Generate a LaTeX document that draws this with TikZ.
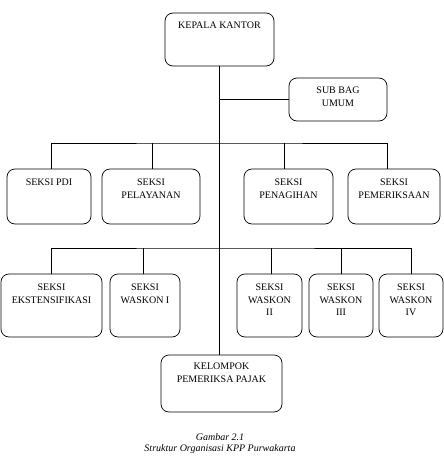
\documentclass[tikz,border=0pt]{standalone}
\usepackage{fontspec}
\setmainfont{Liberation Serif}
\usetikzlibrary{calc,positioning}

\newcommand{\toptext}[4][10pt]{\parbox[c][#3][t]{#2}{\centering\vspace*{#1}#4}}

\begin{document}
\begin{tikzpicture}[x=1pt,y=-1pt, unit/.style={draw,rounded corners=8pt,inner sep=0pt,line width=0.7pt,font=\fontsize{10}{12.5}\selectfont}, link/.style={draw,line width=0.6pt}]
                      \useasboundingbox (0,0) rectangle (444,469);

                      \node[unit] (kepala) at (219.5,39.5) {\toptext[9pt]{109pt}{53pt}{KEPALA KANTOR}};
                      \node[unit] (subbag) at (338,99.5) {\toptext[9pt]{98pt}{43pt}{SUB BAG\\UMUM}};

                      \node[unit] (pdi) at (49,196.5) {\toptext{84pt}{55pt}{SEKSI PDI}};
                      \node[unit] (pelayanan) at (151,196.5) {\toptext{98pt}{55pt}{SEKSI\\PELAYANAN}};
                      \node[unit] (penagihan) at (288.5,196.5) {\toptext{89pt}{55pt}{SEKSI\\PENAGIHAN}};
                      \node[unit] (pemeriksaan) at (394,196.5) {\toptext{92pt}{55pt}{SEKSI\\PEMERIKSAAN}};

                      \node[unit] (ekstensifikasi) at (51.5,305.5) {\toptext{101pt}{63pt}{SEKSI\\EKSTENSIFIKASI}};
                      \node[unit] (waskon1) at (145,305.5) {\toptext{70pt}{63pt}{SEKSI\\WASKON I}};
                      \node[unit] (waskon2) at (269.5,305.5) {\toptext{65pt}{63pt}{SEKSI\\WASKON\\II}};
                      \node[unit] (waskon3) at (341,305.5) {\toptext{64pt}{63pt}{SEKSI\\WASKON\\III}};
                      \node[unit] (waskon4) at (411,305.5) {\toptext{64pt}{63pt}{SEKSI\\WASKON\\IV}};

                      \node[unit] (kelompok) at (221.5,383.5) {\toptext[8pt]{121pt}{57pt}{KELOMPOK\\PEMERIKSA PAJAK}};

                      \coordinate (bus2) at (219.5,143);
                      \coordinate (bus3) at (219.5,248);

                      \draw[link] (kepala.south) -- (kepala.south |- kelompok.north);
                      \draw[link] (kepala.south |- subbag.west) -- (subbag.west);

                      \draw[link] ([xshift=2pt]pdi.north) |- (bus2) -| ([xshift=-7pt]pemeriksaan.north);
                      \draw[link] ([xshift=1pt]pelayanan.north) -- ([xshift=1pt]pelayanan.north |- bus2);
                      \draw[link] ([xshift=-4.5pt]penagihan.north) -- ([xshift=-4.5pt]penagihan.north |- bus2);

                      \draw[link] (ekstensifikasi.north) |- (bus3) -| (waskon4.north);
                      \draw[link] ([xshift=-2pt]waskon1.north) -- ([xshift=-2pt]waskon1.north |- bus3);
                      \draw[link] ([xshift=1.5pt]waskon2.north) -- ([xshift=1.5pt]waskon2.north |- bus3);
                      \draw[link] (waskon3.north) -- (waskon3.north |- bus3);

                      \node[align=center,font=\fontsize{10}{11}\selectfont\itshape] (caption) at (220,444) {Gambar 2.1\\Struktur Organisasi KPP Purwakarta};
                    \end{tikzpicture}
\end{document}
